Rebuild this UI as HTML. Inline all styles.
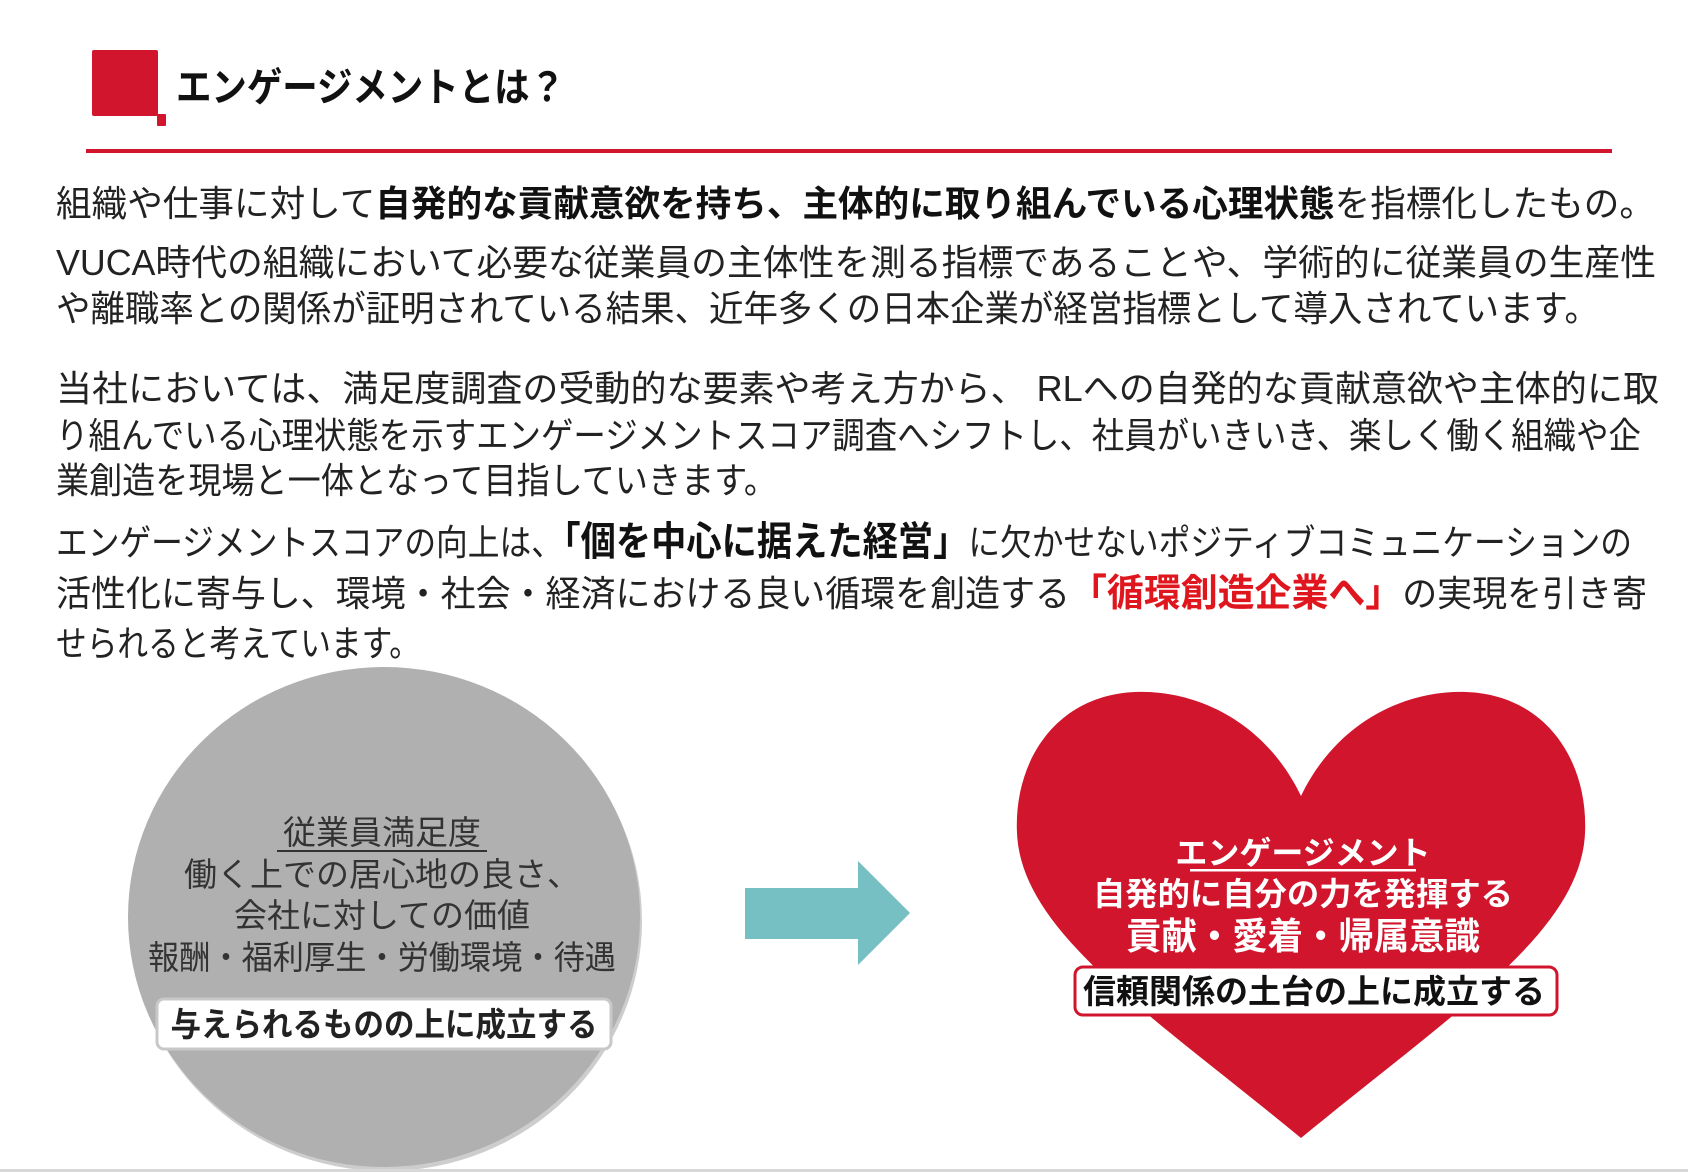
<!DOCTYPE html>
<html><head><meta charset="utf-8"><style>
html,body{margin:0;padding:0;background:#fff;}
svg{display:block;}
text{font-family:"Liberation Sans","Noto Sans CJK JP",sans-serif;}
</style></head><body>
<svg width="1688" height="1172" viewBox="0 0 1688 1172" xmlns="http://www.w3.org/2000/svg">
<rect x="0" y="0" width="1688" height="1172" fill="#fff"/>
<rect x="92" y="50" width="66" height="66" rx="2" fill="#d0152c"/>
<rect x="157" y="114" width="9" height="12" rx="1" fill="#d0152c"/>
<text x="176" y="101" font-size="40" font-weight="bold" fill="#111" textLength="389" lengthAdjust="spacingAndGlyphs">エンゲージメントとは？</text>
<rect x="86" y="149" width="1526" height="4" fill="#d0152c"/>

<g font-size="36" fill="#222">
<text x="56" y="216" textLength="1599" lengthAdjust="spacingAndGlyphs">組織や仕事に対して<tspan font-weight="bold" fill="#111">自発的な貢献意欲を持ち、主体的に取り組んでいる心理状態</tspan>を指標化したもの。</text>
<text x="56" y="275" textLength="1600" lengthAdjust="spacingAndGlyphs">VUCA時代の組織において必要な従業員の主体性を測る指標であることや、学術的に従業員の生産性</text>
<text x="56" y="321" textLength="1543" lengthAdjust="spacingAndGlyphs">や離職率との関係が証明されている結果、近年多くの日本企業が経営指標として導入されています。</text>
<text x="56" y="401" textLength="1603" lengthAdjust="spacingAndGlyphs">当社においては、満足度調査の受動的な要素や考え方から、 RLへの自発的な貢献意欲や主体的に取</text>
<text x="56" y="448" textLength="1585" lengthAdjust="spacingAndGlyphs">り組んでいる心理状態を示すエンゲージメントスコア調査へシフトし、社員がいきいき、楽しく働く組織や企</text>
<text x="56" y="493" textLength="721" lengthAdjust="spacingAndGlyphs">業創造を現場と一体となって目指していきます。</text>
<text x="56" y="555" textLength="1576" lengthAdjust="spacingAndGlyphs">エンゲージメントスコアの向上は、<tspan font-weight="bold" font-size="40" fill="#111">「個を中心に据えた経営」</tspan>に欠かせないポジティブコミュニケーションの</text>
<text x="56" y="606" textLength="1591" lengthAdjust="spacingAndGlyphs">活性化に寄与し、環境・社会・経済における良い循環を創造する<tspan font-weight="bold" font-size="38" fill="#e0161e">「循環創造企業へ」</tspan>の実現を引き寄</text>
<text x="56" y="656" textLength="364" lengthAdjust="spacingAndGlyphs">せられると考えています。</text>
</g>

<ellipse cx="386" cy="921" rx="256" ry="250" fill="#9c9c9c" opacity="0.5"/>
<ellipse cx="384" cy="917" rx="256" ry="250" fill="#b0b0b0"/>
<g font-size="33" fill="#333" text-anchor="middle">
<text x="382" y="844">従業員満足度</text>
<rect x="277" y="850" width="210" height="2" fill="#333"/>
<text x="382" y="886">働く上での居心地の良さ、</text>
<text x="382" y="927">会社に対しての価値</text>
<text x="382" y="969" textLength="468" lengthAdjust="spacingAndGlyphs">報酬・福利厚生・労働環境・待遇</text>
</g>
<rect x="157" y="999" width="454" height="50" rx="7" fill="#fff" stroke="#c8c8c8" stroke-width="3"/>
<text x="384" y="1036" font-size="33" font-weight="bold" fill="#222" text-anchor="middle" textLength="427" lengthAdjust="spacingAndGlyphs">与えられるものの上に成立する</text>

<polygon points="745,888 858,888 858,861 910,913 858,965 858,939 745,939" fill="#76c0c4"/>

<g transform="translate(1301,0) scale(0.99,1) translate(-1307,0)">
<path d="M1307,796 C1270,720 1200,690 1140,692 C1060,695 1018,760 1020,830 C1022,930 1150,1010 1307,1138 C1464,1010 1592,930 1594,830 C1596,760 1554,695 1474,692 C1414,690 1344,720 1307,796 Z" fill="#d0152c"/>
</g>
<g fill="#fff" font-weight="bold" text-anchor="middle">
<text x="1303" y="864" font-size="32">エンゲージメント</text>
<rect x="1190" y="869" width="226" height="2.5" fill="#fff"/>
<text x="1303" y="905" font-size="32" textLength="420" lengthAdjust="spacingAndGlyphs">自発的に自分の力を発揮する</text>
<text x="1303" y="949" font-size="37" textLength="354" lengthAdjust="spacingAndGlyphs">貢献・愛着・帰属意識</text>
</g>
<rect x="1075" y="967" width="482" height="48" rx="8" fill="#fff" stroke="#d0152c" stroke-width="3"/>
<text x="1314" y="1003" font-size="33" font-weight="bold" fill="#111" text-anchor="middle" textLength="462" lengthAdjust="spacingAndGlyphs">信頼関係の土台の上に成立する</text>

<rect x="0" y="1169" width="1688" height="3" fill="#d8d8d8"/>
</svg>
</body></html>
